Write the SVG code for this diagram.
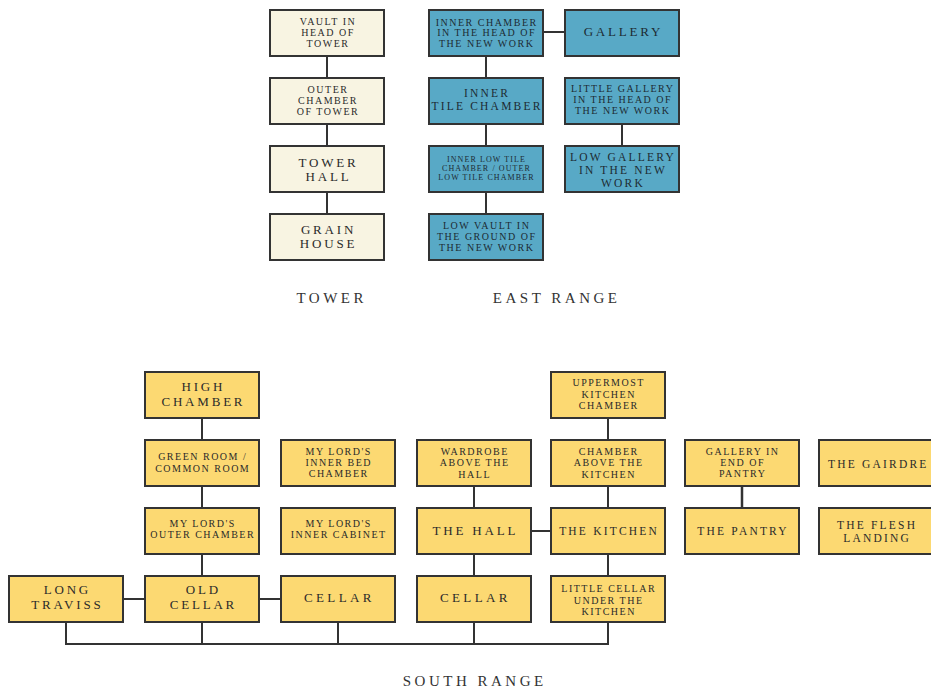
<svg xmlns="http://www.w3.org/2000/svg" width="931" height="688" viewBox="0 0 931 688">
<style>
rect{stroke:#333;stroke-width:2}
.c{fill:#f8f4e2}.b{fill:#58a9c6}.y{fill:#fcd972}
text{font-family:"Liberation Serif","DejaVu Serif",serif;text-anchor:middle;fill:#2a2a2a}
.b text{fill:#1d2b33}
.s{font-size:10px;letter-spacing:1.5px}
.xs{font-size:8px;letter-spacing:1.1px}
.m{font-size:11.5px;letter-spacing:2.2px}
.l{font-size:13px;letter-spacing:2.8px}
.lab{font-size:15px;letter-spacing:3.5px;fill:#333}
#conn line,#conn path{stroke:#333;stroke-width:2;fill:none}
</style>
<rect width="931" height="688" fill="#fff" style="stroke:none"/>
<g id="conn">
<line x1="327" y1="56" x2="327" y2="78"/>
<line x1="327" y1="124" x2="327" y2="146"/>
<line x1="327" y1="192" x2="327" y2="214"/>
<line x1="486" y1="56" x2="486" y2="78"/>
<line x1="486" y1="124" x2="486" y2="146"/>
<line x1="486" y1="192" x2="486" y2="214"/>
<line x1="543" y1="32" x2="565" y2="32"/>
<line x1="622" y1="124" x2="622" y2="146"/>
<line x1="202" y1="418" x2="202" y2="440"/>
<line x1="202" y1="486" x2="202" y2="508"/>
<line x1="202" y1="554" x2="202" y2="576"/>
<line x1="474" y1="486" x2="474" y2="508"/>
<line x1="474" y1="554" x2="474" y2="576"/>
<line x1="608" y1="418" x2="608" y2="440"/>
<line x1="608" y1="486" x2="608" y2="508"/>
<line x1="608" y1="554" x2="608" y2="576"/>
<line x1="742" y1="486" x2="742" y2="508" style="stroke-width:2.5"/>
<line x1="123" y1="599" x2="145" y2="599"/>
<line x1="259" y1="599" x2="281" y2="599"/>
<line x1="531" y1="531" x2="551" y2="531"/>
<path d="M66 622V644H608V622M202 622V644M338 622V644M474 622V644"/>
</g>
<g id="tower-vault" class="c"><rect x="270" y="10" width="114" height="46"/><text class="s" x="328" y="25.3">VAULT IN</text><text class="s" x="328" y="36.3">HEAD OF</text><text class="s" x="328" y="47.3">TOWER</text></g>
<g id="tower-outer" class="c"><rect x="270" y="78" width="114" height="46"/><text class="s" x="328" y="93.3">OUTER</text><text class="s" x="328" y="104.3">CHAMBER</text><text class="s" x="328" y="115.3">OF TOWER</text></g>
<g id="tower-hall" class="c"><rect x="270" y="146" width="114" height="46"/><text class="l" x="328.5" y="167.3">TOWER</text><text class="l" x="328.5" y="181.3">HALL</text></g>
<g id="grain-house" class="c"><rect x="270" y="214" width="114" height="46"/><text class="l" x="328.5" y="234.3">GRAIN</text><text class="l" x="328.5" y="248.3">HOUSE</text></g>
<g id="inner-chamber" class="b"><rect x="429" y="10" width="114" height="46"/><text class="s" x="486.7" y="26.3">INNER CHAMBER</text><text class="s" x="486.7" y="36.3">IN THE HEAD OF</text><text class="s" x="486.7" y="47.3">THE NEW WORK</text></g>
<g id="gallery" class="b"><rect x="565" y="10" width="114" height="46"/><text class="l" x="623.4" y="36.3">GALLERY</text></g>
<g id="inner-tile" class="b"><rect x="429" y="78" width="114" height="46"/><text class="m" x="487" y="96.8">INNER</text><text class="m" x="487" y="109.8">TILE CHAMBER</text></g>
<g id="little-gallery" class="b"><rect x="565" y="78" width="114" height="46"/><text class="s" x="622.7" y="92.3">LITTLE GALLERY</text><text class="s" x="622.7" y="103.3">IN THE HEAD OF</text><text class="s" x="622.7" y="114.3">THE NEW WORK</text></g>
<g id="inner-low-tile" class="b"><rect x="429" y="146" width="114" height="46"/><text class="xs" x="486.5" y="161.6">INNER LOW TILE</text><text class="xs" x="486.5" y="170.6">CHAMBER / OUTER</text><text class="xs" x="486.5" y="179.6">LOW TILE CHAMBER</text></g>
<g id="low-gallery" class="b"><rect x="565" y="146" width="114" height="46"/><text class="m" x="623" y="160.8">LOW GALLERY</text><text class="m" x="623" y="173.8">IN THE NEW</text><text class="m" x="623" y="186.8">WORK</text></g>
<g id="low-vault" class="b"><rect x="429" y="214" width="114" height="46"/><text class="s" x="486.7" y="229.3">LOW VAULT IN</text><text class="s" x="486.7" y="240.3">THE GROUND OF</text><text class="s" x="486.7" y="251.3">THE NEW WORK</text></g>
<text class="lab" x="331.7" y="303">TOWER</text>
<text class="lab" x="556.7" y="303">EAST RANGE</text>
<g id="high-chamber" class="y"><rect x="145" y="372" width="114" height="46"/><text class="l" x="203.4" y="391.3">HIGH</text><text class="l" x="203.4" y="406.3">CHAMBER</text></g>
<g id="uppermost-kitchen" class="y"><rect x="551" y="372" width="114" height="46"/><text class="s" x="608.7" y="386.3">UPPERMOST</text><text class="s" x="608.7" y="398.3">KITCHEN</text><text class="s" x="608.7" y="409.3">CHAMBER</text></g>
<g id="green-room" class="y"><rect x="145" y="440" width="114" height="46"/><text class="s" x="202.7" y="460.3">GREEN ROOM /</text><text class="s" x="202.7" y="472.3">COMMON ROOM</text></g>
<g id="inner-bed" class="y"><rect x="281" y="440" width="114" height="46"/><text class="s" x="338.7" y="455.3">MY LORD'S</text><text class="s" x="338.7" y="466.3">INNER BED</text><text class="s" x="338.7" y="477.3">CHAMBER</text></g>
<g id="wardrobe" class="y"><rect x="417" y="440" width="114" height="46"/><text class="s" x="474.7" y="455.3">WARDROBE</text><text class="s" x="474.7" y="466.3">ABOVE THE</text><text class="s" x="474.7" y="478.3">HALL</text></g>
<g id="chamber-above-kitchen" class="y"><rect x="551" y="440" width="114" height="46"/><text class="s" x="608.7" y="455.3">CHAMBER</text><text class="s" x="608.7" y="466.3">ABOVE THE</text><text class="s" x="608.7" y="478.3">KITCHEN</text></g>
<g id="gallery-pantry" class="y"><rect x="685" y="440" width="114" height="46"/><text class="s" x="742.7" y="455.3">GALLERY IN</text><text class="s" x="742.7" y="466.3">END OF</text><text class="s" x="742.7" y="477.3">PANTRY</text></g>
<g id="gairdre" class="y"><rect x="819" y="440" width="120" height="46"/><text class="m" x="828" y="467.8" style="text-anchor:start">THE GAIRDRE</text></g>
<g id="outer-chamber" class="y"><rect x="145" y="508" width="114" height="46"/><text class="s" x="202.7" y="527.3">MY LORD'S</text><text class="s" x="202.7" y="538.3">OUTER CHAMBER</text></g>
<g id="inner-cabinet" class="y"><rect x="281" y="508" width="114" height="46"/><text class="s" x="338.7" y="527.3">MY LORD'S</text><text class="s" x="338.7" y="538.3">INNER CABINET</text></g>
<g id="the-hall" class="y"><rect x="417" y="508" width="114" height="46"/><text class="l" x="475.4" y="535.3">THE HALL</text></g>
<g id="the-kitchen" class="y"><rect x="551" y="508" width="114" height="46"/><text class="m" x="609.1" y="535.3">THE KITCHEN</text></g>
<g id="the-pantry" class="y"><rect x="685" y="508" width="114" height="46"/><text class="m" x="743.1" y="535.3">THE PANTRY</text></g>
<g id="flesh-landing" class="y"><rect x="819" y="508" width="114" height="46"/><text class="m" x="877.1" y="528.8">THE FLESH</text><text class="m" x="877.1" y="541.8">LANDING</text></g>
<g id="long-traviss" class="y"><rect x="9" y="576" width="114" height="46"/><text class="l" x="67.4" y="594.3">LONG</text><text class="l" x="67.4" y="609.3">TRAVISS</text></g>
<g id="old-cellar" class="y"><rect x="145" y="576" width="114" height="46"/><text class="l" x="203.4" y="594.3">OLD</text><text class="l" x="203.4" y="609.3">CELLAR</text></g>
<g id="cellar-1" class="y"><rect x="281" y="576" width="114" height="46"/><text class="l" x="339.4" y="602.3" style="letter-spacing:3.4px">CELLAR</text></g>
<g id="cellar-2" class="y"><rect x="417" y="576" width="114" height="46"/><text class="l" x="475.4" y="602.3" style="letter-spacing:3.4px">CELLAR</text></g>
<g id="little-cellar" class="y"><rect x="551" y="576" width="114" height="46"/><text class="s" x="608.7" y="592.3">LITTLE CELLAR</text><text class="s" x="608.7" y="604.3">UNDER THE</text><text class="s" x="608.7" y="615.3">KITCHEN</text></g>
<text class="lab" x="474.7" y="686">SOUTH RANGE</text>
</svg>
